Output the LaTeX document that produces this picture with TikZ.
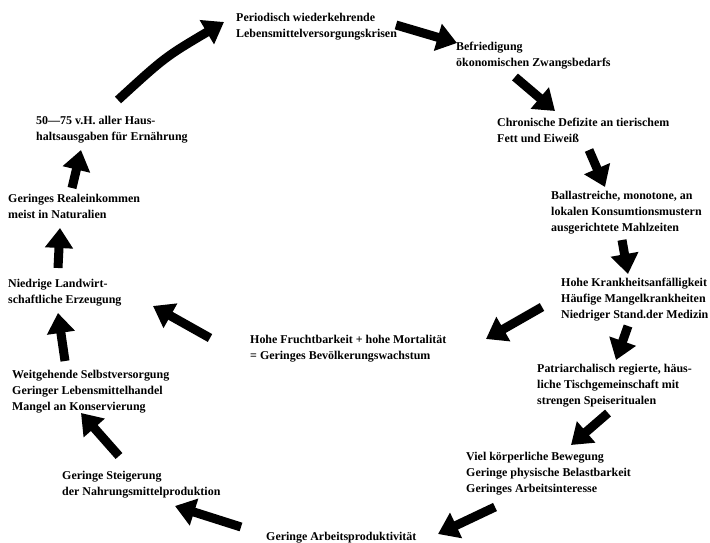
\documentclass[tikz,border=0pt]{standalone}
\usepackage{fontspec}
\setmainfont{Liberation Serif}
\usetikzlibrary{arrows.meta}
\tikzset{
  txt/.style={anchor=north west, inner sep=0pt, align=left,
    font=\fontsize{12}{16}\selectfont\bfseries},
  bigarrow/.style={line width=9bp, -{Triangle[length=20bp,width=27bp]}},
}
\begin{document}
\begin{tikzpicture}[x=1bp,y=-1bp]
\useasboundingbox (0,0) rectangle (710,543);
% texts (top of first line)
\node[txt] (n1) at (236,13) {Periodisch wiederkehrende\\Lebensmittelversorgungskrisen};
\node[txt] (n2) at (456,42) {Befriedigung\\ökonomischen Zwangsbedarfs};
\node[txt] (n3) at (497,118) {Chronische Defizite an tierischem\\Fett und Eiweiß};
\node[txt] (n4) at (551,191) {Ballastreiche, monotone, an\\lokalen Konsumtionsmustern\\ausgerichtete Mahlzeiten};
\node[txt] (n5) at (561,278) {Hohe Krankheitsanfälligkeit\\Häufige Mangelkrankheiten\\Niedriger Stand.der Medizin};
\node[txt] (n6) at (537,364) {Patriarchalisch regierte, häus-\\liche Tischgemeinschaft mit\\strengen Speiseritualen};
\node[txt] (n7) at (466,452) {Viel körperliche Bewegung\\Geringe physische Belastbarkeit\\Geringes Arbeitsinteresse};
\node[txt] (n8) at (266,532) {Geringe Arbeitsproduktivität};
\node[txt] (n9) at (62,471) {Geringe Steigerung\\der Nahrungsmittelproduktion};
\node[txt] (n10) at (12,370) {Weitgehende Selbstversorgung\\Geringer Lebensmittelhandel\\Mangel an Konservierung};
\node[txt] (n11) at (8,279) {Niedrige Landwirt-\\schaftliche Erzeugung};
\node[txt] (n12) at (8,194) {Geringes Realeinkommen\\meist in Naturalien};
\node[txt] (n13) at (36,116) {50---75 v.H. aller Haus-\\haltsausgaben für Ernährung};
\node[txt] (n14) at (250,335) {Hohe Fruchtbarkeit + hohe Mortalität\\= Geringes Bevölkerungswachstum};
% arrow end points
\coordinate (a13s) at (118,100); \coordinate (a13e) at (224,22);
\coordinate (a1s) at (396,25);   \coordinate (a1e) at (457,43);
\coordinate (a2s) at (515,77);   \coordinate (a2e) at (555,111);
\coordinate (a3s) at (589,150);  \coordinate (a3e) at (605,187);
\coordinate (a4s) at (622,240);  \coordinate (a4e) at (628,274);
\coordinate (a5s) at (628,326);  \coordinate (a5e) at (616,360);
\coordinate (a6s) at (608,413);  \coordinate (a6e) at (571,445);
\coordinate (a7s) at (495,507);  \coordinate (a7e) at (438,534);
\coordinate (a8s) at (241,527);  \coordinate (a8e) at (175,506);
\coordinate (a9s) at (119,456);  \coordinate (a9e) at (81,413);
\coordinate (a10s) at (65,361);  \coordinate (a10e) at (58,313);
\coordinate (a11s) at (58,268);  \coordinate (a11e) at (60,228);
\coordinate (a12s) at (72,188);  \coordinate (a12e) at (81,150);
\coordinate (a5bs) at (542,307); \coordinate (a5be) at (486,339);
\coordinate (a14s) at (210,338); \coordinate (a14e) at (153,306);
% arrows
\draw[bigarrow] (a13s) .. controls (165,57) .. (a13e);
\draw[bigarrow] (a1s) -- (a1e);
\draw[bigarrow] (a2s) -- (a2e);
\draw[bigarrow] (a3s) -- (a3e);
\draw[bigarrow] (a4s) -- (a4e);
\draw[bigarrow] (a5s) -- (a5e);
\draw[bigarrow] (a6s) -- (a6e);
\draw[bigarrow] (a7s) -- (a7e);
\draw[bigarrow] (a8s) -- (a8e);
\draw[bigarrow] (a9s) -- (a9e);
\draw[bigarrow] (a10s) -- (a10e);
\draw[bigarrow] (a11s) -- (a11e);
\draw[bigarrow] (a12s) -- (a12e);
\draw[bigarrow] (a5bs) -- (a5be);
\draw[bigarrow] (a14s) -- (a14e);
\end{tikzpicture}
\end{document}
